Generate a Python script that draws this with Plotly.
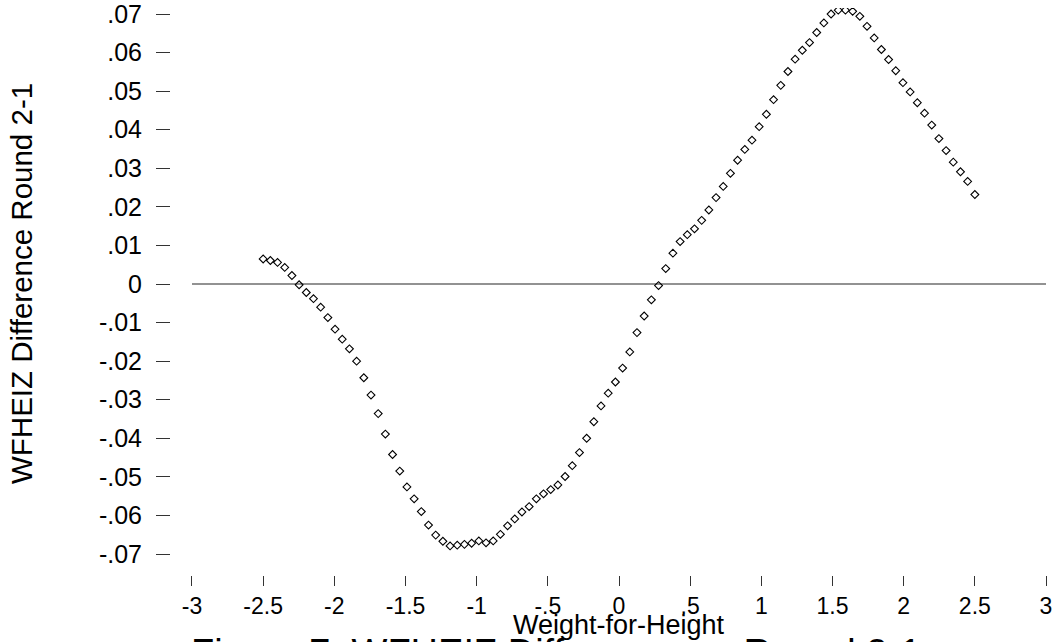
import plotly.graph_objects as go

# ---- data ----
x_wfh = [-2.5, -2.4495, -2.399, -2.3485, -2.298, -2.2475, -2.197, -2.1465, -2.096, -2.0455,
         -1.9949, -1.9444, -1.8939, -1.8434, -1.7929, -1.7424, -1.6919, -1.6414, -1.5909, -1.5404,
         -1.4899, -1.4394, -1.3889, -1.3384, -1.2879, -1.2374, -1.1869, -1.1364, -1.0859, -1.0354,
         -0.9848, -0.9343, -0.8838, -0.8333, -0.7828, -0.7323, -0.6818, -0.6313, -0.5808, -0.5303,
         -0.4798, -0.4293, -0.3788, -0.3283, -0.2778, -0.2273, -0.1768, -0.1263, -0.0758, -0.0253,
         0.0253, 0.0758, 0.1263, 0.1768, 0.2273, 0.2778, 0.3283, 0.3788, 0.4293, 0.4798,
         0.5303, 0.5808, 0.6313, 0.6818, 0.7323, 0.7828, 0.8333, 0.8838, 0.9343, 0.9848,
         1.0354, 1.0859, 1.1364, 1.1869, 1.2374, 1.2879, 1.3384, 1.3889, 1.4394, 1.4899,
         1.5404, 1.5909, 1.6414, 1.6919, 1.7424, 1.7929, 1.8434, 1.8939, 1.9444, 1.9949,
         2.0455, 2.096, 2.1465, 2.197, 2.2475, 2.298, 2.3485, 2.399, 2.4495, 2.5]

y_diff = [0.0065, 0.0061, 0.0056, 0.0043, 0.0022, -0.0002, -0.0022, -0.0038, -0.0060, -0.0087,
          -0.0117, -0.0143, -0.0168, -0.0200, -0.0243, -0.0288, -0.0336, -0.0389, -0.0442, -0.0485,
          -0.0526, -0.0557, -0.0590, -0.0625, -0.0651, -0.0667, -0.0679, -0.0677, -0.0675, -0.0672,
          -0.0666, -0.0671, -0.0666, -0.0649, -0.0627, -0.0609, -0.0591, -0.0577, -0.0557, -0.0544,
          -0.0533, -0.0521, -0.0499, -0.0471, -0.0437, -0.0400, -0.0357, -0.0316, -0.0283, -0.0254,
          -0.0218, -0.0176, -0.0126, -0.0083, -0.0041, -0.0004, 0.0040, 0.0080, 0.0110, 0.0128,
          0.0143, 0.0165, 0.0192, 0.0224, 0.0253, 0.0287, 0.0321, 0.0349, 0.0373, 0.0408,
          0.0440, 0.0478, 0.0515, 0.0551, 0.0583, 0.0606, 0.0626, 0.0652, 0.0677, 0.0700,
          0.0710, 0.0710, 0.0707, 0.0694, 0.0668, 0.0638, 0.0608, 0.0582, 0.0553, 0.0522,
          0.0498, 0.0470, 0.0443, 0.0412, 0.0377, 0.0346, 0.0316, 0.0291, 0.0266, 0.0232]

x_tickvals = [-3, -2.5, -2, -1.5, -1, -0.5, 0, 0.5, 1, 1.5, 2, 2.5, 3]
x_ticktext = ["-3", "-2.5", "-2", "-1.5", "-1", "-.5", "0", ".5", "1", "1.5", "2", "2.5", "3"]
y_tickvals = [0.07, 0.06, 0.05, 0.04, 0.03, 0.02, 0.01, 0, -0.01, -0.02, -0.03, -0.04, -0.05, -0.06, -0.07]
y_ticktext = [".07", ".06", ".05", ".04", ".03", ".02", ".01", "0",
              "-.01", "-.02", "-.03", "-.04", "-.05", "-.06", "-.07"]

ref_x = [-3, 3]
ref_y = [0, 0]

FONT = "Liberation Sans, Arial, Helvetica, sans-serif"

fig = go.Figure()
fig.add_trace(go.Scatter(x=ref_x, y=ref_y, mode="lines",
                         line=dict(color="#6e6e6e", width=1.5),
                         hoverinfo="skip", showlegend=False))
fig.add_trace(go.Scatter(x=x_wfh, y=y_diff, mode="markers",
                         marker=dict(symbol="diamond-open", size=6, color="black",
                                     line=dict(color="black", width=1.1)),
                         showlegend=False))

fig.update_layout(
    width=1057, height=642,
    margin=dict(l=171, r=7, t=8, b=67, autoexpand=False),
    paper_bgcolor="white", plot_bgcolor="white",
    font=dict(family=FONT, color="black", size=25),
    xaxis=dict(range=[-3.1475, 3.028], showgrid=False, zeroline=False, showline=False,
               tickmode="array", tickvals=x_tickvals, ticktext=x_ticktext,
               ticks="outside", ticklen=10, tickwidth=1, tickcolor="#333",
               ticklabeloverflow="allow",
               tickfont=dict(size=23, family=FONT, color="black")),
    yaxis=dict(range=[-0.07544, 0.07156], showgrid=False, zeroline=False, showline=False,
               tickmode="array", tickvals=y_tickvals, ticktext=y_ticktext,
               ticks="outside", ticklen=14, tickwidth=1, tickcolor="#333",
               ticklabelstandoff=9, ticklabeloverflow="allow",
               tickfont=dict(size=25, family=FONT, color="black")),
    annotations=[
        dict(text="Weight-for-Height", xref="x", x=0, yref="paper", y=0,
             yanchor="top", xanchor="center", yshift=-33, showarrow=False,
             font=dict(size=27, family=FONT, color="black")),
        dict(text="WFHEIZ Difference Round 2-1", xref="paper", x=0, xshift=-150,
             yref="y", y=0, textangle=-90, xanchor="center", yanchor="middle",
             showarrow=False, font=dict(size=29.5, family=FONT, color="black")),
        dict(text="Figure 7: WFHEIZ Difference on Round 2-1", xref="paper",
             x=(555.5 - 171) / (1050 - 171), yref="paper", y=0, yanchor="top",
             xanchor="center", yshift=-55, showarrow=False,
             font=dict(size=38, family=FONT, color="black")),
    ],
)

fig.write_html("out.html")
